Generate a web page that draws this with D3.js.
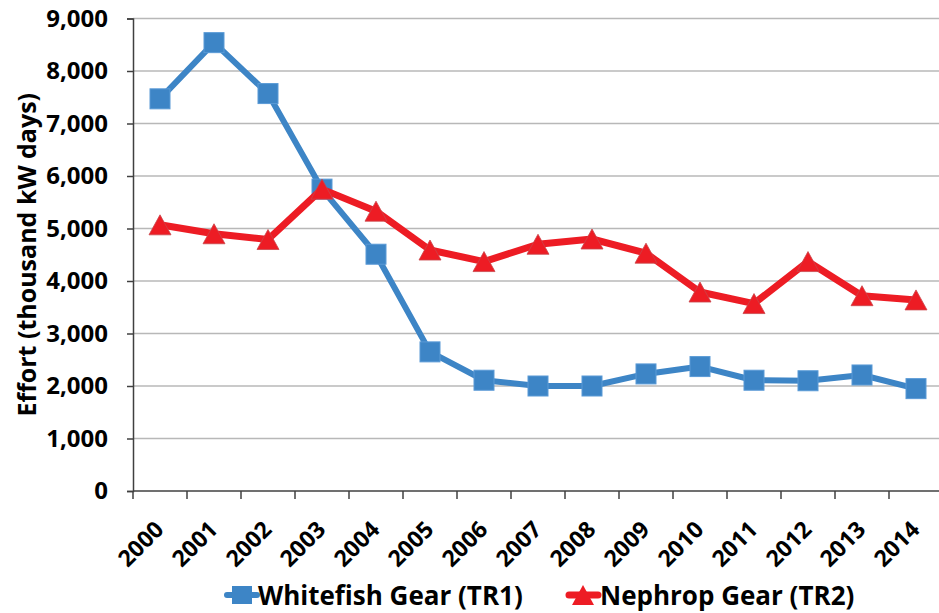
<!DOCTYPE html>
<html>
<head>
<meta charset="utf-8">
<script src="https://cdn.jsdelivr.net/npm/d3@7"></script>
<style>
  body { margin: 0; background: #fff; }
  svg { display: block; font-family: "Open Sans", Lato, sans-serif; font-weight: bold; }
</style>
</head>
<body>
<svg id="chart" width="939" height="613"></svg>
<script>
// data
var years = ["2000","2001","2002","2003","2004","2005","2006","2007","2008","2009","2010","2011","2012","2013","2014"];
var whitefish = [7470, 8540, 7570, 5750, 4510, 2650, 2110, 2000, 2000, 2230, 2370, 2110, 2100, 2210, 1950];
var nephrop = [5070, 4900, 4790, 5750, 5330, 4590, 4370, 4700, 4800, 4530, 3790, 3570, 4370, 3720, 3640];
var yTicks = [0, 1000, 2000, 3000, 4000, 5000, 6000, 7000, 8000, 9000];

var svg = d3.select("#chart");
var plotLeft = 133, plotRight = 943, plotTop = 18.5, plotBottom = 491;

var x = d3.scaleBand().domain(years).range([plotLeft, plotRight]);
var y = d3.scaleLinear().domain([0, 9000]).range([plotBottom, plotTop]);
var fmt = d3.format(",");

// gridlines
svg.append("g").selectAll("line")
  .data(yTicks.filter(function(d) { return d > 0; }))
  .enter().append("line")
  .attr("x1", plotLeft).attr("x2", plotRight)
  .attr("y1", function(d) { return y(d); })
  .attr("y2", function(d) { return y(d); })
  .attr("stroke", "#b8b8b8")
  .attr("stroke-width", 1.5);

// y axis
var yAxis = d3.axisLeft(y).tickValues(yTicks).tickSize(6).tickPadding(19).tickFormat(fmt);
var gy = svg.append("g").attr("transform", "translate(" + plotLeft + ",0)").call(yAxis);
gy.select(".domain").attr("stroke", "#404040").attr("stroke-width", 1.5);
gy.selectAll(".tick line").attr("stroke", "#404040").attr("stroke-width", 1.5);
gy.selectAll(".tick text")
  .attr("fill", "#000")
  .style("font-size", "24px")
  .style("font-weight", "bold")
  .style("font-family", "'Open Sans', sans-serif");

// x axis: ticks at band edges
var edges = years.map(function(d) { return x(d); }).concat([plotRight]);
var gx = svg.append("g");
gx.append("line")
  .attr("x1", plotLeft).attr("x2", plotRight)
  .attr("y1", plotBottom).attr("y2", plotBottom)
  .attr("stroke", "#404040").attr("stroke-width", 1.5);
gx.selectAll(".xt").data(edges).enter().append("line")
  .attr("class", "xt")
  .attr("x1", function(d) { return d; }).attr("x2", function(d) { return d; })
  .attr("y1", plotBottom).attr("y2", plotBottom + 8)
  .attr("stroke", "#404040").attr("stroke-width", 1.5);
gx.selectAll("text").data(years).enter().append("text")
  .attr("transform", function(d) {
    return "translate(" + (x(d) + x.bandwidth() / 2 + 5) + "," + (plotBottom + 40) + ") rotate(-45)";
  })
  .attr("text-anchor", "end")
  .style("font-size", "23px")
  .text(function(d) { return d; });

// y axis title
svg.append("text")
  .attr("transform", "translate(36," + ((plotTop + plotBottom) / 2) + ") rotate(-90)")
  .attr("text-anchor", "middle")
  .style("font-size", "25px")
  .text("Effort (thousand kW days)");

var line = d3.line()
  .x(function(d, i) { return x(years[i]) + x.bandwidth() / 2; })
  .y(function(d) { return y(d); });

var blue = "#3d85c6", red = "#ed1c24";

// whitefish series
svg.append("path").datum(whitefish)
  .attr("fill", "none").attr("stroke", blue).attr("stroke-width", 6)
  .attr("stroke-linejoin", "round").attr("d", line);
svg.append("g").selectAll("rect").data(whitefish).enter().append("rect")
  .attr("x", function(d, i) { return x(years[i]) + x.bandwidth() / 2 - 10; })
  .attr("y", function(d) { return y(d) - 10; })
  .attr("width", 20).attr("height", 20)
  .attr("fill", blue).attr("stroke", "#5a9ad6").attr("stroke-width", 1);

// nephrop series
svg.append("path").datum(nephrop)
  .attr("fill", "none").attr("stroke", red).attr("stroke-width", 7)
  .attr("stroke-linejoin", "round").attr("d", line);
svg.append("g").selectAll("path").data(nephrop).enter().append("path")
  .attr("d", "M0,-10L11,10L-11,10Z")
  .attr("transform", function(d, i) {
    return "translate(" + (x(years[i]) + x.bandwidth() / 2) + "," + y(d) + ")";
  })
  .attr("fill", red).attr("stroke", "#c9454a").attr("stroke-width", 0.8);

// legend
var leg = svg.append("g");
var ly = 595;
leg.append("line").attr("x1", 227).attr("x2", 257).attr("y1", ly).attr("y2", ly)
  .attr("stroke", blue).attr("stroke-width", 6).attr("stroke-linecap", "round");
leg.append("rect").attr("x", 232).attr("y", ly - 9).attr("width", 20).attr("height", 18)
  .attr("fill", blue);
leg.append("text").attr("x", 258).attr("y", 605)
  .style("font-size", "26px").text("Whitefish Gear (TR1)");

leg.append("line").attr("x1", 569).attr("x2", 598).attr("y1", ly).attr("y2", ly)
  .attr("stroke", red).attr("stroke-width", 7).attr("stroke-linecap", "round");
leg.append("path").attr("d", "M0,-10L11,10L-11,10Z")
  .attr("transform", "translate(583," + ly + ")").attr("fill", red);
leg.append("text").attr("x", 600).attr("y", 605)
  .style("font-size", "26px").text("Nephrop Gear (TR2)");
</script>
</body>
</html>
